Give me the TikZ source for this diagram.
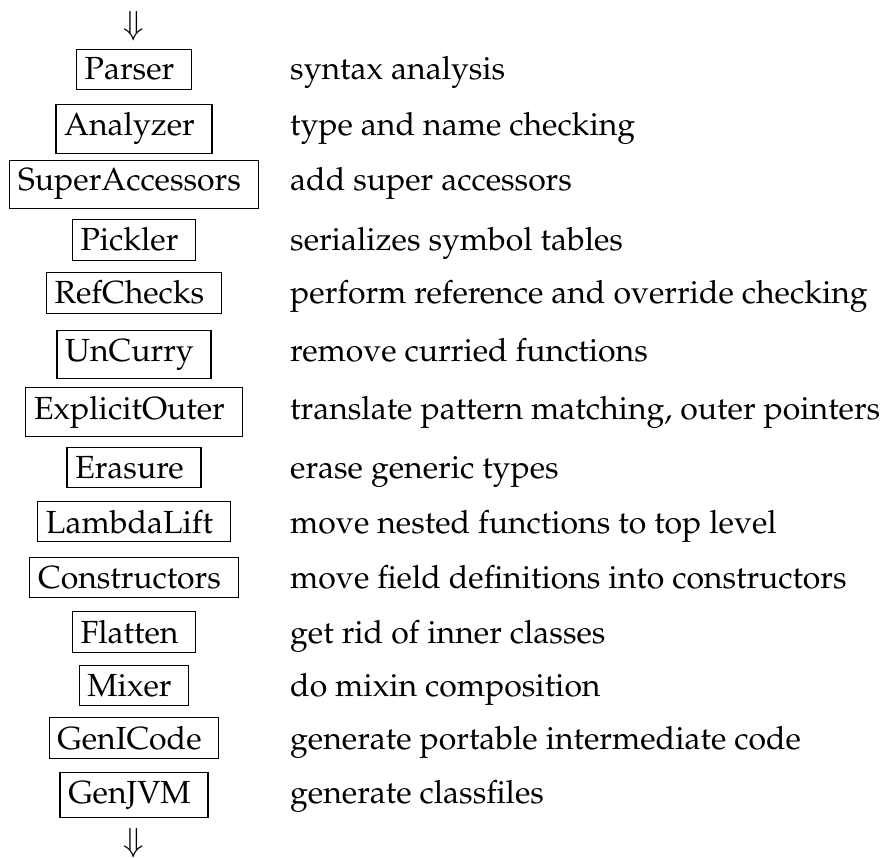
\documentclass[tikz,border=0pt]{standalone}
\usepackage[T1]{fontenc}
\usepackage{mathpazo}
\begin{document}
\begin{tikzpicture}[x=1pt,y=-1pt,
  phase/.style={draw,line width=1.2pt,inner xsep=8.3pt,inner ysep=8.6pt,anchor=base,font=\fontsize{32}{38}\selectfont},
  desc/.style={inner sep=0pt,anchor=base west,font=\fontsize{32}{38}\selectfont},
  flow/.style={inner sep=0pt,anchor=center,font=\fontsize{32}{38}\selectfont}]
\useasboundingbox (0,0) rectangle (880,858);
\node[flow] (top) at (134,26) {$\Downarrow$};
\node[phase] (p1) at (134,80) {Parser\kern9pt};
\node[desc] (d1) at (290,80) {syntax analysis};
\node[phase] (p2) at (134,136) {Analyzer\kern9pt};
\node[desc] (d2) at (290,136) {type and name checking};
\node[phase] (p3) at (134,191) {SuperAccessors\kern9pt};
\node[desc] (d3) at (290,191) {add super accessors};
\node[phase] (p4) at (134,251) {Pickler\kern9pt};
\node[desc] (d4) at (290,251) {serializes symbol tables};
\node[phase] (p5) at (134,304) {RefChecks\kern9pt};
\node[desc] (d5) at (290,304) {perform reference and override checking};
\node[phase] (p6) at (134,361) {UnCurry\kern9pt};
\node[desc] (d6) at (290,361) {remove curried functions};
\node[phase] (p7) at (134,419) {ExplicitOuter\kern9pt};
\node[desc] (d7) at (290,419) {translate pattern matching, outer pointers};
\node[phase] (p8) at (134,478) {Erasure\kern9pt};
\node[desc] (d8) at (290,478) {erase generic types};
\node[phase] (p9) at (134,533) {LambdaLift\kern9pt};
\node[desc] (d9) at (290,533) {move nested functions to top level};
\node[phase] (p10) at (134,588) {Constructors\kern9pt};
\node[desc] (d10) at (290,588) {move field definitions into constructors};
\node[phase] (p11) at (134,643) {Flatten\kern9pt};
\node[desc] (d11) at (290,643) {get rid of inner classes};
\node[phase] (p12) at (134,696) {Mixer\kern9pt};
\node[desc] (d12) at (290,696) {do mixin composition};
\node[phase] (p13) at (134,749) {GenICode\kern9pt};
\node[desc] (d13) at (290,749) {generate portable intermediate code};
\node[phase] (p14) at (134,803) {GenJVM\kern9pt};
\node[desc] (d14) at (290,803) {generate classfiles};
\node[flow] (bot) at (134,843) {$\Downarrow$};
\end{tikzpicture}
\end{document}
